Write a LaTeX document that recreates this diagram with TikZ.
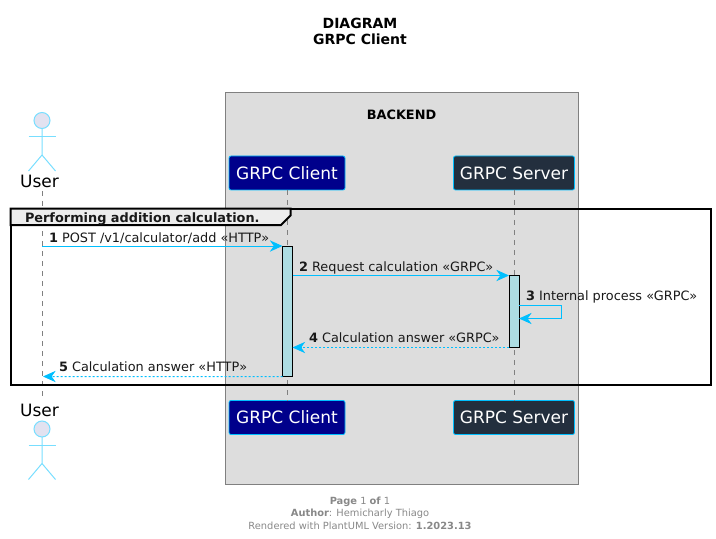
\documentclass[tikz,border=0pt]{standalone}
\usepackage{fontspec}
\setmainfont{DejaVu Sans}
\usetikzlibrary{positioning,arrows.meta,calc}
\definecolor{cSky}{RGB}{0,191,255}
\definecolor{cActor}{RGB}{120,222,255}
\definecolor{cHead}{RGB}{226,226,240}
\definecolor{cBox}{RGB}{221,221,221}
\definecolor{cClient}{RGB}{0,0,139}
\definecolor{cServer}{RGB}{35,47,62}
\definecolor{cAct}{RGB}{173,221,227}
\definecolor{cFoot}{RGB}{136,136,136}

\begin{document}
\begin{tikzpicture}[x=0.75pt,y=-0.75pt,line width=0.75pt,font=\fontsize{9.65}{11.5}\selectfont]
\tikzset{
  every node/.append style={outer sep=0pt},
  part/.style={draw=cSky,line width=0.6pt,rounded corners=1.5pt,minimum height=25.5pt,text=white,inner sep=0pt,font=\fontsize{12.75}{15}\selectfont},
  who/.style={minimum height=15pt,inner sep=0pt,font=\fontsize{12.75}{15}\selectfont},
  life/.style={draw=black!50,dash pattern=on 3.75pt off 3.75pt},
  bar/.style={draw=black,fill=cAct,minimum width=7.5pt,inner sep=0pt},
  msg/.style={draw=cSky,-{Stealth[length=9.5pt,width=8.5pt,inset=3pt]}},
  ret/.style={msg,dash pattern=on 1.5pt off 1.5pt},
  lab/.style={anchor=base west,inner sep=0pt,text=black!90},
  foot/.style={inner sep=0pt,text=cFoot,font=\fontsize{7.4}{9}\selectfont}
}
\useasboundingbox (0,0) rectangle (716,538);
% title
\node[inner sep=0pt,align=center,font=\fontsize{10.5}{12}\selectfont\bfseries] (title) at (360,31) {DIAGRAM\\GRPC Client};

% box
\node[draw=black!50,fill=cBox,inner sep=0pt,minimum width=264.75pt,minimum height=294pt,anchor=north west] (backend) at (225.5,92.5) {};
\node[inner sep=0pt,font=\fontsize{9.65}{11.5}\selectfont\bfseries] (boxlabel) at (401.5,114.5) {BACKEND};

% participants
\node[who] (user1) at (39.5,181) {User};
\node[who] (user2) at (39.5,410) {User};
\node[part,fill=cClient,minimum width=87pt] (client1) at (287,173) {GRPC Client};
\node[part,fill=cClient,minimum width=87pt] (client2) at (287,417.5) {GRPC Client};
\node[part,fill=cServer,minimum width=90.75pt] (server1) at (514,173) {GRPC Server};
\node[part,fill=cServer,minimum width=90.75pt] (server2) at (514,417.5) {GRPC Server};
\coordinate (life1) at (42,191);
\coordinate (life2) at (42,400);
\draw[life] (life1) -- (life2);
\draw[life] (client1) -- (client2);
\draw[life] (server1) -- (server2);

% actors
\foreach \nm/\yy in {top/112.5,bottom/421}{
  \begin{scope}[shift={(42,\yy)}]
    \node[circle,draw=cActor,fill=cHead,minimum size=12pt,inner sep=0pt] (head\nm) at (0,8) {};
    \coordinate (hip\nm) at (0,42.5);
    \draw[cActor] (head\nm) -- (hip\nm) -- (-13.5,58.5);
    \draw[cActor] (hip\nm) -- (13.5,58.5);
    \draw[cActor] (-13.5,24) -- (13.5,24);
  \end{scope}
}

% group
\node[draw=black,line width=1.5pt,inner sep=0pt,minimum width=525.4pt,minimum height=132pt,anchor=north west] (frame) at (10.5,208.5) {};
\draw[line width=1.5pt,fill=black!7] (frame.north west) -- (290.5,208.5) -- (290.5,215.5) -- (281,225) -- (10.5,225) -- cycle;
\node[lab,font=\fontsize{9.65}{11.5}\selectfont\bfseries] (grouplabel) at (25,222) {Performing addition calculation.};

% activations
\node[bar,minimum height=98pt,anchor=north] (act1) at (287.5,246) {};
\node[bar,minimum height=54pt,anchor=north] (act2) at (514,275.5) {};

% messages
\coordinate (m1) at (42,246);
\coordinate (m5) at (43,376.5);
\coordinate (m3a) at (561.5,305.5);
\coordinate (m3b) at (561.5,318.5);
\draw[msg] (m1) -- (act1.north west);
\draw[msg] (act1.east |- act2.north) -- (act2.north west);
\draw[msg] (act2.east |- m3a) -- (m3a) -- (m3b) -- (act2.east |- m3b);
\draw[ret] (act2.south west) -- (act1.east |- act2.south);
\draw[ret] (act1.south west) -- (m5);
\node[lab] (t1) at (49,242) {\textbf{1} POST /v1/calculator/add «HTTP»};
\node[lab] (t2) at (299,271) {\textbf{2} Request calculation «GRPC»};
\node[lab] (t3) at (526,300.5) {\textbf{3} Internal process «GRPC»};
\node[lab] (t4) at (309,342.5) {\textbf{4} Calculation answer «GRPC»};
\node[lab] (t5) at (59,371.5) {\textbf{5} Calculation answer «HTTP»};

% footer
\node[foot] (f1) at (360,502) {\textbf{Page} 1 \textbf{of} 1};
\node[foot] (f2) at (360,514) {\textbf{Author}: Hemicharly Thiago};
\node[foot] (f3) at (360,525.5) {Rendered with PlantUML Version: \textbf{1.2023.13}};
\end{tikzpicture}
\end{document}
